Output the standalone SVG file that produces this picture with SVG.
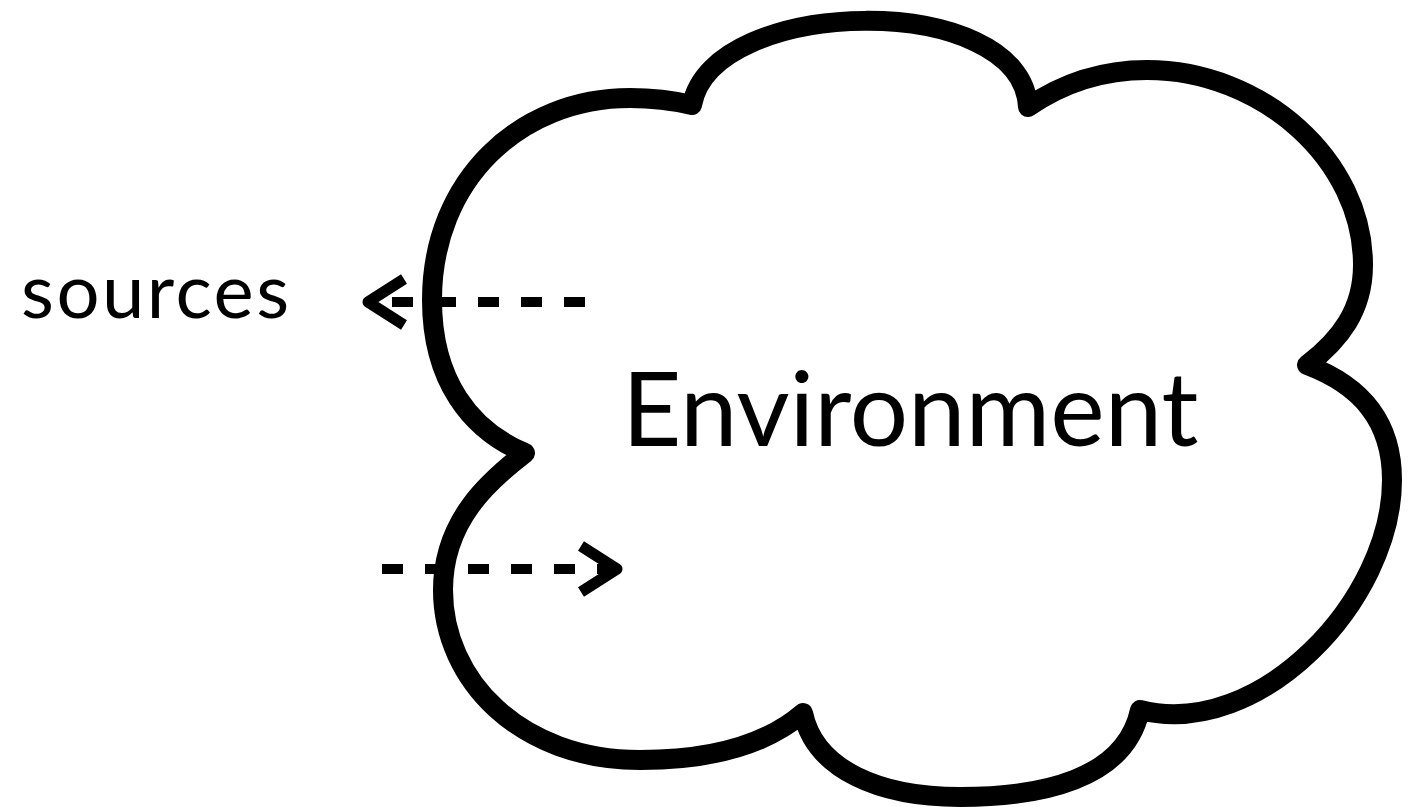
<svg xmlns="http://www.w3.org/2000/svg" width="1411" height="807" viewBox="0 0 1411 807">
<style>
.cloud{fill:#fff;stroke:#000;stroke-width:20;stroke-linejoin:round;stroke-linecap:round}
.dash{fill:none;stroke:#000;stroke-width:10;stroke-dasharray:21 22}
.head{fill:none;stroke:#000;stroke-width:11;stroke-linejoin:round;stroke-linecap:butt}
.lbl{font-family:Lato,"Open Sans","Liberation Sans",sans-serif;fill:#000}
</style>
<rect width="1411" height="807" fill="#fff"/>
<g id="environment">
<path class="cloud" d="M692,105 C712,-5 1022,-10 1028,107 C1060,85 1100,70 1147,70 C1262,70 1363,160 1363,265 C1363,310 1340,340 1307,365 C1360,385 1392,420 1392,480 C1392,600 1260,740 1140,710 C1125,780 1040,797 960,797 C880,797 815,770 803,713 C760,750 700,760 640,760 C520,760 443,680 443,590 C443,520 490,480 525,453 C470,430 432,380 432,300 C432,180 520,98 630,98 C655,98 675,101 692,105 Z"/>
<text class="lbl" x="622" y="446" font-size="103">Environment</text>
</g>
<g id="sources">
<text class="lbl" x="21" y="318" font-size="76" letter-spacing="2.5">sources</text>
</g>
<g id="connectors">
<line class="dash" x1="585" y1="302" x2="372" y2="302"/>
<polyline class="head" points="404,279 368,302 404,325"/>
<line class="dash" x1="382" y1="569" x2="612" y2="569"/>
<polyline class="head" points="581,546 617,569 581,592"/>
</g>
</svg>
